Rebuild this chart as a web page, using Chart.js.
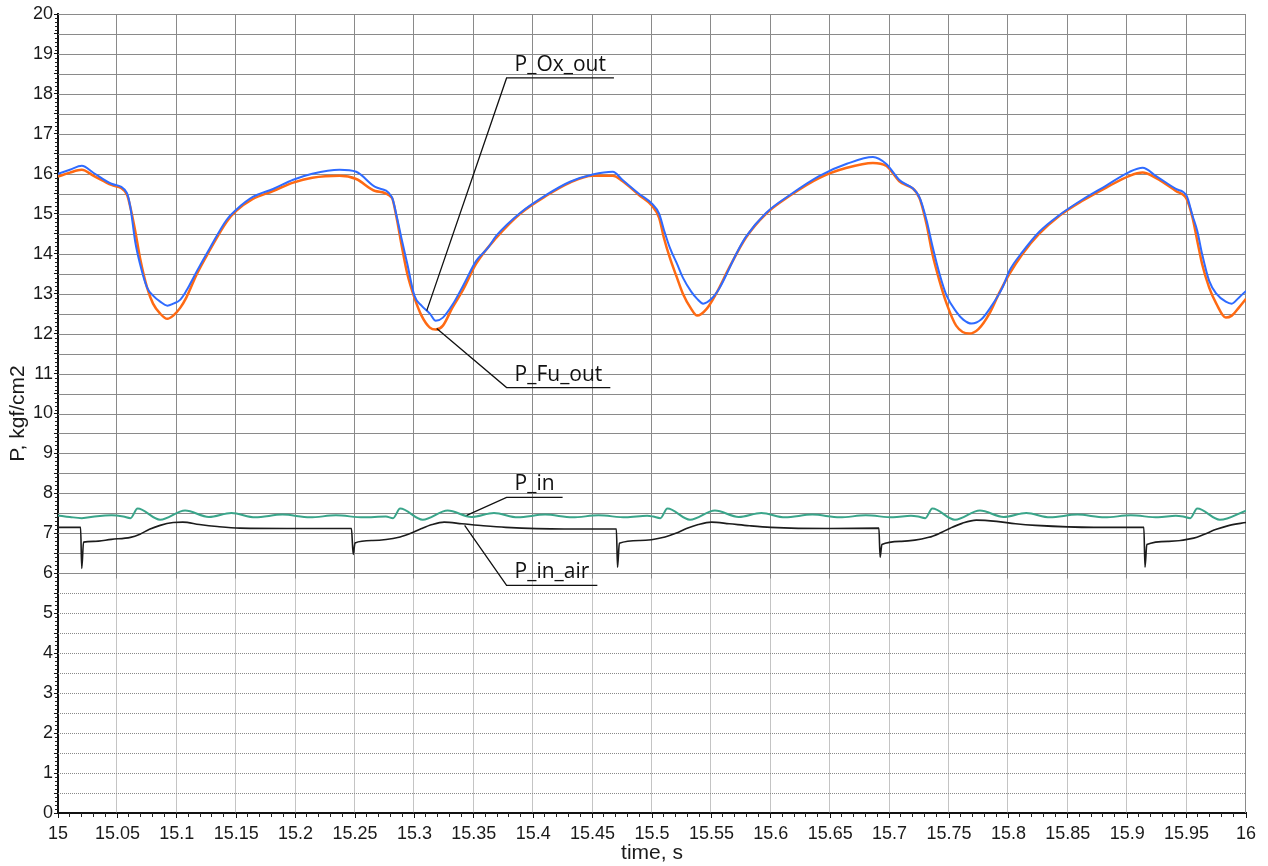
<!DOCTYPE html>
<html>
<head>
<meta charset="utf-8">
<script src="https://cdn.jsdelivr.net/npm/chart.js@4.4.1/dist/chart.umd.min.js"></script>
<style>
  html, body { margin: 0; padding: 0; background: #fff; }
</style>
</head>
<body>
<canvas id="p-chart" width="1268" height="866"></canvas>
<script>
// fuel outlet pressure
const fuTime = [15.000, 15.010, 15.020, 15.030, 15.045, 15.058, 15.061, 15.065, 15.069, 15.075, 15.080, 15.086, 15.092, 15.097,
  15.103, 15.108, 15.117, 15.128, 15.142, 15.150, 15.164, 15.181, 15.198, 15.214, 15.237, 15.251, 15.267, 15.281, 15.285,
  15.289, 15.294, 15.300, 15.306, 15.313, 15.318, 15.324, 15.332, 15.341, 15.352, 15.369, 15.389, 15.411, 15.431, 15.450,
  15.467, 15.475, 15.489, 15.500, 15.506, 15.510, 15.515, 15.521, 15.526, 15.533, 15.538, 15.546, 15.554, 15.565, 15.579,
  15.596, 15.616, 15.641, 15.664, 15.686, 15.697, 15.708, 15.725, 15.731, 15.736, 15.742, 15.748, 15.756, 15.767, 15.775,
  15.784, 15.792, 15.801, 15.812, 15.826, 15.843, 15.862, 15.882, 15.902, 15.913, 15.924, 15.941, 15.950, 15.955, 15.959,
  15.963, 15.969, 15.975, 15.983, 15.988, 15.994, 16.000];
const fuPressure = [15.93, 16.03, 16.10, 15.95, 15.72, 15.48, 15.15, 14.57, 13.90, 13.15, 12.75, 12.50, 12.37, 12.45,
  12.65, 12.90, 13.50, 14.10, 14.80, 15.07, 15.37, 15.57, 15.78, 15.90, 15.95, 15.87, 15.57, 15.40, 14.90,
  14.25, 13.50, 12.90, 12.45, 12.15, 12.10, 12.20, 12.65, 13.10, 13.75, 14.40, 15.00, 15.45, 15.78, 15.95,
  15.95, 15.82, 15.47, 15.20, 14.90, 14.40, 13.90, 13.40, 13.00, 12.62, 12.45, 12.62, 13.00, 13.65, 14.40,
  15.00, 15.45, 15.90, 16.15, 16.27, 16.20, 15.82, 15.40, 14.75, 14.00, 13.32, 12.75, 12.20, 12.00, 12.12,
  12.50, 13.00, 13.50, 14.00, 14.50, 14.95, 15.32, 15.65, 15.95, 16.03, 15.90, 15.57, 15.37, 14.90, 14.32,
  13.75, 13.15, 12.75, 12.40, 12.45, 12.65, 12.87];

// oxidizer outlet pressure
const oxTime = [15.000, 15.010, 15.020, 15.030, 15.045, 15.058, 15.061, 15.065, 15.069, 15.075, 15.080, 15.086, 15.092, 15.097,
  15.103, 15.108, 15.117, 15.128, 15.142, 15.150, 15.164, 15.181, 15.198, 15.214, 15.237, 15.251, 15.267, 15.281, 15.285,
  15.289, 15.294, 15.300, 15.306, 15.313, 15.318, 15.324, 15.332, 15.341, 15.352, 15.362, 15.369, 15.389, 15.411, 15.431,
  15.450, 15.467, 15.475, 15.489, 15.500, 15.506, 15.510, 15.515, 15.521, 15.526, 15.533, 15.538, 15.543, 15.550, 15.557,
  15.571, 15.579, 15.596, 15.616, 15.641, 15.664, 15.686, 15.697, 15.708, 15.725, 15.731, 15.736, 15.742, 15.748, 15.756,
  15.762, 15.769, 15.777, 15.786, 15.795, 15.801, 15.812, 15.826, 15.843, 15.862, 15.882, 15.902, 15.913, 15.924, 15.941,
  15.950, 15.955, 15.959, 15.963, 15.969, 15.975, 15.983, 15.988, 15.994, 16.000];
const oxPressure = [16.00, 16.10, 16.20, 16.02, 15.75, 15.52, 15.15, 14.30, 13.75, 13.15, 12.95, 12.80, 12.70, 12.75,
  12.85, 13.07, 13.57, 14.15, 14.85, 15.10, 15.42, 15.62, 15.85, 16.00, 16.10, 16.05, 15.67, 15.42, 14.95,
  14.40, 13.75, 12.95, 12.70, 12.50, 12.32, 12.40, 12.72, 13.20, 13.82, 14.15, 14.45, 15.02, 15.47, 15.80,
  15.98, 16.05, 15.85, 15.50, 15.25, 15.00, 14.60, 14.15, 13.75, 13.40, 13.05, 12.87, 12.75, 12.87, 13.15,
  14.00, 14.42, 15.02, 15.47, 15.95, 16.25, 16.42, 16.25, 15.85, 15.42, 14.85, 14.20, 13.50, 12.95, 12.55,
  12.35, 12.25, 12.35, 12.70, 13.15, 13.58, 14.05, 14.55, 14.97, 15.35, 15.70, 16.05, 16.15, 15.95, 15.62,
  15.45, 14.95, 14.57, 14.00, 13.32, 13.00, 12.80, 12.75, 12.90, 13.07];

// inlet pressure
const inTime = [15.000, 15.010, 15.020, 15.033, 15.045, 15.055, 15.061, 15.067, 15.086, 15.107, 15.127, 15.146, 15.166,
  15.189, 15.212, 15.234, 15.257, 15.276, 15.282, 15.288, 15.307, 15.328, 15.348, 15.367, 15.387, 15.410, 15.433,
  15.455, 15.478, 15.496, 15.501, 15.507, 15.513, 15.532, 15.553, 15.573, 15.592, 15.612, 15.635, 15.658, 15.680,
  15.703, 15.718, 15.724, 15.730, 15.736, 15.755, 15.776, 15.796, 15.815, 15.835, 15.858, 15.881, 15.903, 15.926,
  15.941, 15.947, 15.953, 15.959, 15.978, 16.000];
const inPressure = [7.45, 7.41, 7.38, 7.43, 7.45, 7.42, 7.38, 7.62, 7.34, 7.57, 7.41, 7.51, 7.40,
  7.47, 7.40, 7.45, 7.40, 7.42, 7.38, 7.62, 7.34, 7.57, 7.41, 7.51, 7.40, 7.47, 7.40,
  7.45, 7.40, 7.44, 7.42, 7.38, 7.62, 7.34, 7.57, 7.41, 7.51, 7.40, 7.47, 7.40, 7.45,
  7.40, 7.44, 7.42, 7.38, 7.62, 7.34, 7.57, 7.41, 7.51, 7.40, 7.47, 7.40, 7.45, 7.40,
  7.44, 7.42, 7.38, 7.62, 7.34, 7.57];

// inlet air pressure
const airTime = [15.000, 15.019, 15.020, 15.0215, 15.030, 15.045, 15.061, 15.069, 15.077, 15.086, 15.097, 15.105, 15.119,
  15.134, 15.153, 15.200, 15.247, 15.2485, 15.250, 15.265, 15.288, 15.297, 15.306, 15.315, 15.325, 15.340, 15.358,
  15.377, 15.426, 15.470, 15.471, 15.4725, 15.490, 15.511, 15.520, 15.529, 15.539, 15.550, 15.565, 15.582, 15.600,
  15.650, 15.691, 15.692, 15.6935, 15.710, 15.733, 15.742, 15.751, 15.761, 15.773, 15.790, 15.806, 15.823, 15.872,
  15.914, 15.915, 15.9165, 15.935, 15.956, 15.965, 15.975, 15.986, 16.000];
const airPressure = [7.15, 7.15, 6.12, 6.78, 6.80, 6.85, 6.90, 6.98, 7.10, 7.20, 7.27, 7.28, 7.22,
  7.17, 7.13, 7.12, 7.12, 6.47, 6.76, 6.82, 6.91, 7.00, 7.12, 7.22, 7.28, 7.24, 7.19,
  7.15, 7.11, 7.11, 6.15, 6.75, 6.82, 6.91, 7.00, 7.12, 7.22, 7.28, 7.24, 7.19, 7.15,
  7.12, 7.13, 6.40, 6.72, 6.80, 6.90, 7.00, 7.13, 7.25, 7.33, 7.30, 7.24, 7.20, 7.15,
  7.15, 6.15, 6.72, 6.80, 6.88, 6.98, 7.10, 7.20, 7.27];

// labelled leader lines: point on the trace, and where the label shelf starts
const callouts = [
  { text: 'P_Ox_out', at: [15.3104, 12.575], shelf: [15.3776, 18.40] },
  { text: 'P_Fu_out', at: [15.3188, 12.125], shelf: [15.3776, 10.65] },
  { text: 'P_in', at: [15.3440, 7.45], shelf: [15.3776, 7.90] },
  { text: 'P_in_air', at: [15.3423, 7.20], shelf: [15.3776, 5.70] }
];

// below this value the grid is drawn dotted
const lowerPaneTop = 5.875;

const pts = (t, p) => t.map((v, i) => ({ x: v, y: p[i] }));

const paneGrid = {
  id: 'paneGrid',
  beforeDatasetsDraw(chart) {
    const { ctx, chartArea: a, scales: { x, y } } = chart;
    const split = Math.round(y.getPixelForValue(lowerPaneTop)) + 0.5;
    const seg = (x1, y1, x2, y2) => { ctx.beginPath(); ctx.moveTo(x1, y1); ctx.lineTo(x2, y2); ctx.stroke(); };
    ctx.save();
    ctx.lineWidth = 1;
    ctx.strokeStyle = '#8a8a8a';
    y.ticks.forEach(t => {
      if (t.value <= 0) return;
      const py = Math.round(y.getPixelForValue(t.value)) + 0.5;
      ctx.setLineDash(t.value < lowerPaneTop ? [1, 1] : []);
      seg(a.left, py, a.right, py);
    });
    x.ticks.forEach(t => {
      if (t.value <= 15) return;
      const px = Math.round(x.getPixelForValue(t.value)) - 0.5;
      ctx.setLineDash([]);
      if (t.value >= 16) { seg(px, a.top, px, a.bottom); return; }
      seg(px, a.top, px, split);
      ctx.setLineDash([1, 1]);
      seg(px, split, px, a.bottom);
    });
    ctx.restore();
  },
  afterDraw(chart) {
    // minor ticks: 0.01 s on time, 0.1 on pressure
    const { ctx, chartArea: a, scales: { x, y } } = chart;
    ctx.save();
    ctx.strokeStyle = '#222';
    ctx.lineWidth = 1;
    for (let i = 1; i < 100; i++) {
      if (i % 5 === 0) continue;
      const px = Math.round(x.getPixelForValue(15 + i / 100)) - 0.5;
      ctx.beginPath(); ctx.moveTo(px, a.bottom); ctx.lineTo(px, a.bottom + 4); ctx.stroke();
    }
    for (let i = 1; i < 200; i++) {
      if (i % 5 === 0) continue;
      const py = Math.round(y.getPixelForValue(i / 10)) + 0.5;
      ctx.beginPath(); ctx.moveTo(a.left - 3, py); ctx.lineTo(a.left, py); ctx.stroke();
    }
    ctx.restore();
  }
};

const calloutLabels = {
  id: 'calloutLabels',
  afterDatasetsDraw(chart) {
    const { ctx, scales: { x, y } } = chart;
    ctx.save();
    ctx.font = '21px "Open Sans"';
    ctx.strokeStyle = '#111';
    ctx.fillStyle = '#111';
    ctx.lineWidth = 1.3;
    callouts.forEach(c => {
      const ax = x.getPixelForValue(c.at[0]), ay = y.getPixelForValue(c.at[1]);
      const sx = x.getPixelForValue(c.shelf[0]), sy = y.getPixelForValue(c.shelf[1]);
      const w = ctx.measureText(c.text).width + 16;
      ctx.beginPath();
      ctx.moveTo(ax, ay);
      ctx.lineTo(sx, sy);
      ctx.lineTo(sx + w, sy);
      ctx.stroke();
      ctx.fillText(c.text, sx + 8, sy - 7);
    });
    ctx.restore();
  }
};

Chart.defaults.font.family = '"Liberation Sans", Arial, sans-serif';
Chart.defaults.color = '#1a1a1a';

const line = (label, data, color, width) => ({
  label: label,
  data: data,
  borderColor: color,
  borderWidth: width,
  pointRadius: 0,
  fill: false,
  cubicInterpolationMode: 'monotone'
});

new Chart(document.getElementById('p-chart'), {
  type: 'line',
  data: {
    datasets: [
      line('P_Ox_out', pts(oxTime, oxPressure), '#2f6bff', 2),
      line('P_Fu_out', pts(fuTime, fuPressure), '#ff6a13', 2.5),
      line('P_in', pts(inTime, inPressure), '#3aa58a', 2),
      line('P_in_air', pts(airTime, airPressure), '#1c1c1c', 1.6)
    ]
  },
  options: {
    responsive: false,
    animation: false,
    layout: { padding: { left: 0, top: 14, right: 22, bottom: 0 } },
    plugins: { legend: { display: false }, tooltip: { enabled: false } },
    scales: {
      x: {
        type: 'linear',
        min: 15,
        max: 16,
        afterFit: s => { s.height = 53; },
        border: { color: '#111', width: 2 },
        grid: { drawOnChartArea: false, tickLength: 5, tickColor: '#111' },
        ticks: {
          stepSize: 0.05,
          autoSkip: false,
          maxRotation: 0,
          padding: 5,
          font: { size: 18 },
          callback: v => String(parseFloat(v.toFixed(2)))
        },
        title: { display: true, text: 'time, s', font: { size: 21 }, padding: { top: 0, bottom: 0 } }
      },
      y: {
        min: 0,
        max: 20,
        afterFit: s => { s.width = 58; },
        border: { color: '#111', width: 2 },
        grid: { drawOnChartArea: false, tickLength: 4, tickColor: '#111' },
        ticks: {
          stepSize: 0.5,
          autoSkip: false,
          padding: 1,
          font: { size: 18 },
          callback: v => (v % 1 === 0 ? String(v) : '')
        },
        title: { display: true, text: 'P, kgf/cm2', font: { size: 21 }, padding: { top: 6, bottom: 0 } }
      }
    }
  },
  plugins: [paneGrid, calloutLabels]
});
</script>
</body>
</html>
